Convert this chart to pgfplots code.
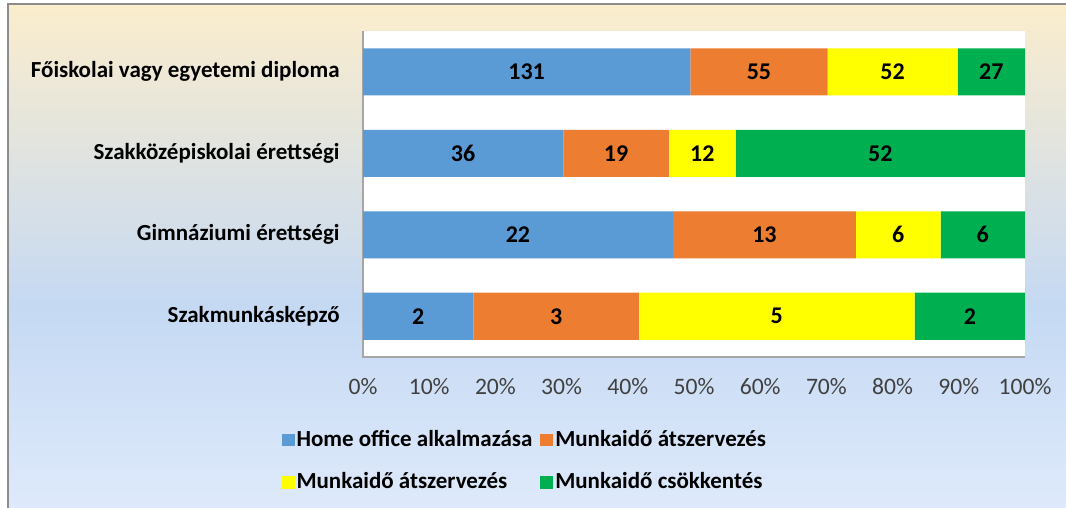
\documentclass[border=0pt]{standalone}
\usepackage{fontspec}
\setmainfont{Carlito}
\usepackage{pgfplots}
\pgfplotsset{compat=1.18}
\usepackage{pgfplotstable}

\definecolor{cblue}{HTML}{5B9BD5}
\definecolor{corange}{HTML}{ED7D31}
\definecolor{cyellow}{HTML}{FFFF00}
\definecolor{cgreen}{HTML}{00B050}
\definecolor{bgtop}{HTML}{FBEDCD}
\definecolor{bgmid}{HTML}{C5D9F3}
\definecolor{bgbot}{HTML}{DEEAFB}
\definecolor{ticktext}{HTML}{404040}
\pgfdeclareverticalshading{chartbg}{100bp}{color(0bp)=(bgbot); color(25bp)=(bgbot); color(45bp)=(bgmid); color(75bp)=(bgtop); color(100bp)=(bgtop)}

\pgfplotstableread{
y pct n
3 49.434 131
2 30.252 36
1 46.809 22
0 16.667 2
}\tHome
\pgfplotstableread{
y pct n
3 20.755 55
2 15.966 19
1 27.660 13
0 25.000 3
}\tReorgA
\pgfplotstableread{
y pct n
3 19.623 52
2 10.084 12
1 12.766 6
0 41.667 5
}\tReorgB
\pgfplotstableread{
y pct n
3 10.188 27
2 43.697 52
1 12.765 6
0 16.666 2
}\tCut

\begin{document}
\begin{tikzpicture}[font=\fontsize{11.5}{14}\selectfont]
\useasboundingbox (0,0) rectangle (533pt,254pt);
\shade[shading=chartbg] (4pt,0) rectangle (533pt,252pt);
\draw[gray!90, line width=0.75pt] (4pt,0) -- (4pt,252pt) -- (533pt,252pt);
\begin{axis}[
  at={(181.5pt,75.5pt)}, anchor=south west,
  scale only axis, width=331pt, height=163pt,
  xbar stacked, bar width=23.5pt,
  xmin=0, xmax=100, ymin=-0.5, ymax=3.5,
  xtick={0,10,...,100}, ytick={0,1,2,3},
  yticklabels={Szakmunkásképző, Gimnáziumi érettségi, Szakközépiskolai érettségi, Főiskolai vagy egyetemi diploma},
  xticklabel={\pgfmathprintnumber{\tick}\%},
  /pgf/number format/assume math mode=true,
  major tick length=0pt,
  axis line style={draw=none},
  axis background/.style={fill=white},
  xticklabel style={anchor=center, yshift=-15pt, text=ticktext, font=\fontsize{11.8}{14}\selectfont},
  yticklabel style={anchor=east, inner sep=0pt, xshift=-11.5pt, font=\fontsize{11.5}{14}\selectfont\bfseries},
  nodes near coords,
  point meta=explicit,
  every node near coord/.append style={anchor=center, text=black, font=\fontsize{12}{14}\selectfont\bfseries},
  legend columns=2, legend cell align=left,
  legend image code/.code={\fill[#1] (0pt,-3.2pt) rectangle (6.4pt,3.2pt);},
  legend style={at={(0.2445,-0.218)}, anchor=north, draw=none, fill=none, inner sep=0pt, row sep=9.5pt, font=\fontsize{11.5}{14}\selectfont\bfseries, nodes={inner sep=1pt}, /tikz/every even column/.append style={column sep=3pt}},
  clip=false,
]
\addplot[fill=cblue, draw=none] table[x=pct, y=y, meta=n] {\tHome};
\addlegendentry{Home office alkalmazása}
\addplot[fill=corange, draw=none] table[x=pct, y=y, meta=n] {\tReorgA};
\addlegendentry{Munkaidő átszervezés}
\addplot[fill=cyellow, draw=none] table[x=pct, y=y, meta=n] {\tReorgB};
\addlegendentry{Munkaidő átszervezés}
\addplot[fill=cgreen, draw=none] table[x=pct, y=y, meta=n] {\tCut};
\addlegendentry{Munkaidő csökkentés}
\draw[gray!70, line width=0.75pt] (rel axis cs:0,1) -- (rel axis cs:0,0) -- (rel axis cs:1,0);
\end{axis}
\end{tikzpicture}
\end{document}
